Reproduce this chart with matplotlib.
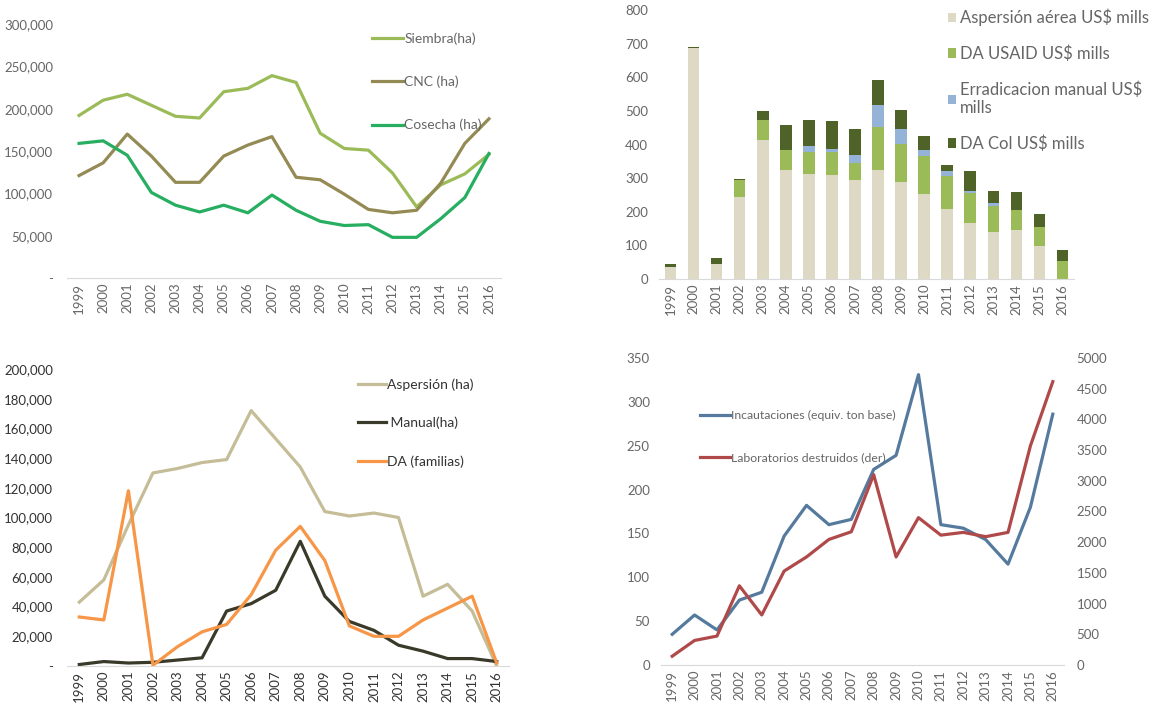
import numpy as np
import matplotlib.pyplot as plt
from matplotlib.ticker import FuncFormatter

plt.rcParams['font.family'] = ['Lato', 'DejaVu Sans']
plt.rcParams['font.size'] = 10

years = [str(y) for y in range(1999, 2017)]

# panel 1: hectares
siembra = [192000, 210000, 217000, 204000, 191000, 189000, 220000, 224000, 239000,
           231000, 171000, 153000, 151000, 124000, 84000, 110000, 123000, 146000]
cnc = [121000, 136000, 170000, 144000, 113000, 113000, 144000, 157000, 167000,
       119000, 116000, 99000, 81000, 77000, 80000, 112000, 159000, 188000]
cosecha = [159000, 162000, 145000, 101000, 86000, 78000, 86000, 77000, 98000,
           80000, 67000, 62000, 63000, 48000, 48000, 70000, 95000, 147000]

# panel 2: US$ mills
asp_usd = [35, 688, 45, 243, 413, 323, 312, 308, 295, 325, 287, 254, 207, 168, 139, 146, 99, 0]
usaid_usd = [0, 0, 0, 52, 60, 60, 65, 70, 50, 127, 115, 113, 100, 87, 78, 60, 56, 53]
manual_usd = [0, 0, 0, 0, 0, 0, 20, 8, 25, 65, 45, 18, 13, 8, 10, 0, 0, 0]
dacol_usd = [10, 3, 18, 3, 27, 75, 75, 83, 77, 75, 55, 40, 18, 57, 35, 53, 37, 32]

# panel 3
aspersion_ha = [43000, 58000, 95000, 130000, 133000, 137000, 139000, 172000, 153000,
                134000, 104000, 101000, 103000, 100000, 47000, 55000, 37000, 0]
manual_ha = [1000, 3000, 2000, 2500, 4000, 5500, 37000, 42000, 51000,
             84000, 47000, 30000, 24000, 14000, 10000, 5000, 5000, 3000]
da_familias = [33000, 31000, 118000, 500, 13000, 23000, 28000, 48000, 78000,
               94000, 71000, 27000, 20000, 20000, 31000, 39000, 47000, 2000]

# panel 4
incautaciones = [35, 57, 40, 74, 83, 147, 182, 160, 166, 223, 239, 331, 160, 156, 143, 115, 180, 286]
laboratorios = [143, 400, 471, 1290, 815, 1530, 1760, 2045, 2170, 3100, 1760, 2400,
                2115, 2160, 2090, 2160, 3570, 4615]

W, H = 1167, 707
fig = plt.figure(figsize=(W / 100, H / 100), dpi=100)
tick_col = '#666666'


def px_axes(x0, x1, ytop, ybot):
    return fig.add_axes([x0 / W, 1 - ybot / H, (x1 - x0) / W, (ybot - ytop) / H])


def style(ax, col=tick_col):
    for s in ['top', 'right', 'left']:
        ax.spines[s].set_visible(False)
    ax.spines['bottom'].set_color('#d9d9d9')
    ax.tick_params(length=0, colors=col, labelsize=9.5)
    ax.set_xticks(range(len(years)))
    ax.set_xticklabels(years, rotation=90)
    ax.set_xlim(-0.5, len(years) - 0.5)


def thousands(v, pos):
    return '-' if v == 0 else '{:,.0f}'.format(v)


x = np.arange(len(years))

# top-left
ax1 = px_axes(67, 501, 24, 278)
style(ax1)
ax1.plot(x, siembra, color='#9bbb59', lw=2.3, label='Siembra(ha)')
ax1.plot(x, cnc, color='#948a54', lw=2.3, label='CNC (ha)')
ax1.plot(x, cosecha, color='#27ae60', lw=2.3, label='Cosecha (ha)')
ax1.set_ylim(0, 300000)
ax1.set_yticks(range(0, 300001, 50000))
ax1.yaxis.set_major_formatter(FuncFormatter(thousands))
ax1.tick_params(axis='y', pad=10)
ax1.legend(loc='upper left', bbox_to_anchor=(0.675, 1.015), frameon=False, handlelength=2.2,
           handletextpad=0.1, labelspacing=2.2, labelcolor=tick_col, fontsize=10)

# top-right
ax2 = px_axes(659, 1074, 10, 279)
style(ax2)
b = np.zeros(len(years))
for vals, col, lab in [(asp_usd, '#ddd9c4', 'Aspersión aérea US$ mills'),
                       (usaid_usd, '#9bbb59', 'DA USAID US$ mills'),
                       (manual_usd, '#95b3d7', 'Erradicacion manual US$\nmills'),
                       (dacol_usd, '#4f6228', 'DA Col US$ mills')]:
    ax2.bar(x, vals, bottom=b, width=0.5, color=col, label=lab)
    b = b + np.array(vals)
ax2.set_ylim(0, 800)
ax2.set_yticks(range(0, 801, 100))
ax2.tick_params(axis='y', pad=8)
ax2.legend(loc='upper left', bbox_to_anchor=(0.66, 1.06), frameon=False, handlelength=0.5,
           handleheight=0.5, handletextpad=0.2, labelspacing=1.15, labelcolor=tick_col,
           fontsize=12)

# bottom-left
ax3 = px_axes(67, 509, 369, 666)
style(ax3, '#333333')
ax3.plot(x, aspersion_ha, color='#c4bd97', lw=2.3, label='Aspersión (ha)')
ax3.plot(x, manual_ha, color='#3a3a2a', lw=2.3, label=' Manual(ha)')
ax3.plot(x, da_familias, color='#f79646', lw=2.3, label='DA (familias)')
ax3.set_ylim(0, 200000)
ax3.set_yticks(range(0, 200001, 20000))
ax3.yaxis.set_major_formatter(FuncFormatter(thousands))
ax3.tick_params(axis='y', pad=10)
ax3.legend(loc='upper left', bbox_to_anchor=(0.63, 1.01), frameon=False, handlelength=2.0,
           handletextpad=0.1, labelspacing=1.85, labelcolor='#333333', fontsize=10)

# bottom-right
ax4 = px_axes(661, 1064, 358, 665)
style(ax4)
ax4.plot(x, incautaciones, color='#557a9e', lw=2.3, label='Incautaciones (equiv. ton base)')
ax4.set_ylim(0, 350)
ax4.set_yticks(range(0, 351, 50))
ax4.tick_params(axis='y', pad=8)
ax4r = ax4.twinx()
for s in ['top', 'right', 'left', 'bottom']:
    ax4r.spines[s].set_visible(False)
ax4r.plot(x, laboratorios, color='#b04a4a', lw=2.3, label='Laboratorios destruidos (der)')
ax4r.set_ylim(0, 5000)
ax4r.set_yticks(range(0, 5001, 500))
ax4r.tick_params(length=0, colors=tick_col, labelsize=9.5, pad=9)
h1, l1 = ax4.get_legend_handles_labels()
h2, l2 = ax4r.get_legend_handles_labels()
ax4r.legend(h1 + h2, l1 + l2, loc='upper left', bbox_to_anchor=(0.07, 0.865), frameon=False,
            handlelength=2.4, handletextpad=0.1, labelspacing=2.5, labelcolor=tick_col,
            fontsize=8.8)

fig.savefig('out.png', dpi=100)
